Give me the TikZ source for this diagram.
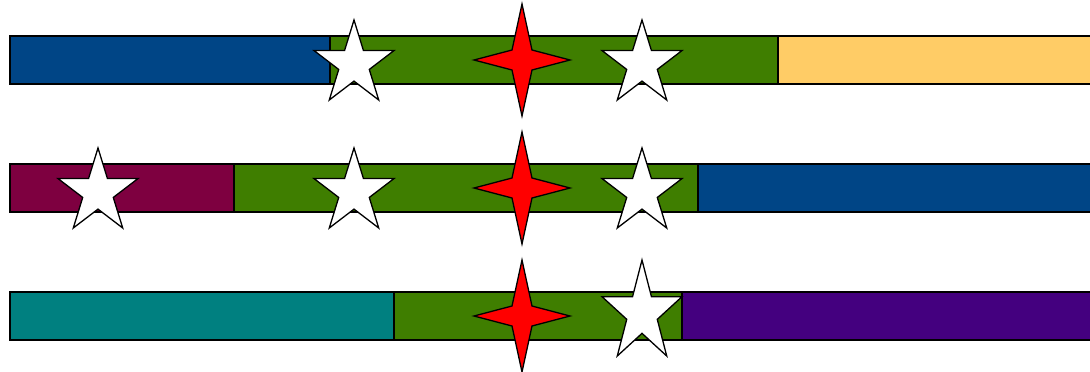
\documentclass[tikz,border=0pt]{standalone}
\definecolor{cblue}{HTML}{004586}
\definecolor{cgreen}{HTML}{3F7E00}
\definecolor{cyellow}{HTML}{FFCC66}
\definecolor{cmaroon}{HTML}{7E0040}
\definecolor{cteal}{HTML}{008080}
\definecolor{cpurple}{HTML}{44007F}
\tikzset{
  bar/.style={draw=black, line width=1.5pt},
  wstar/.style={draw=black, fill=white, line width=1.3pt, line join=miter},
  rstar/.style={draw=black, fill=red, line width=1.3pt, line join=miter}
}
% white five-point star: centre x, top y, width, height
\newcommand\whitestar[4]{%
  \pgfmathsetmacro\sRx{#3*0.52573}%
  \pgfmathsetmacro\sRy{#4*0.55279}%
  \pgfmathsetmacro\sCy{#2+\sRy}%
  \draw[wstar] (#1,#2)
    \foreach \k in {1,...,9}{
      -- ({#1+\sRx*(mod(\k,2)==0?1:0.382)*sin(36*\k)},{\sCy-\sRy*(mod(\k,2)==0?1:0.382)*cos(36*\k)})
    } -- cycle;}
% red four-point star: centre x, centre y
\newcommand\redstar[2]{%
  \draw[rstar] (#1,#2-56) -- (#1+10,#2-10) -- (#1+48,#2) -- (#1+10,#2+10)
    -- (#1,#2+56) -- (#1-10,#2+10) -- (#1-48,#2) -- (#1-10,#2-10) -- cycle;}
\begin{document}
\begin{tikzpicture}[x=1pt,y=-1pt]
\useasboundingbox (0,0) rectangle (1090,372);
\clip (0,0) rectangle (1090,372);
% row 1
\draw[bar, fill=cblue] (10,36) rectangle (330,84);
\draw[bar, fill=cgreen] (330,36) rectangle (778,84);
\draw[bar, fill=cyellow] (778,36) rectangle (1092,84);
% row 2
\draw[bar, fill=cmaroon] (10,164) rectangle (234,212);
\draw[bar, fill=cgreen] (234,164) rectangle (698,212);
\draw[bar, fill=cblue] (698,164) rectangle (1092,212);
% row 3
\draw[bar, fill=cteal] (10,292) rectangle (394,340);
\draw[bar, fill=cgreen] (394,292) rectangle (682,340);
\draw[bar, fill=cpurple] (682,292) rectangle (1092,340);
% stars row 1
\whitestar{354}{20}{80}{80}
\whitestar{642}{20}{80}{80}
\redstar{522}{60}
% stars row 2
\whitestar{98}{148}{80}{80}
\whitestar{354}{148}{80}{80}
\whitestar{642}{148}{80}{80}
\redstar{522}{188}
% stars row 3
\whitestar{642}{260}{80}{96}
\redstar{522}{316}
\end{tikzpicture}
\end{document}
